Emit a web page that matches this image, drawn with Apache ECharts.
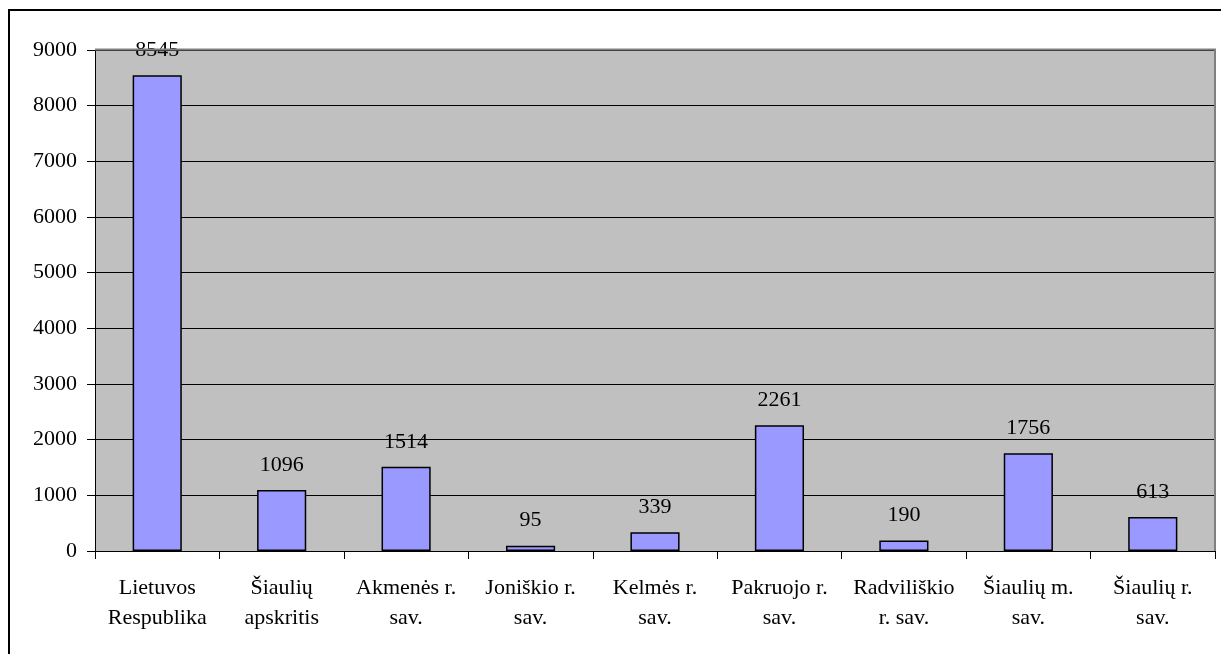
<!DOCTYPE html>
<html><head><meta charset="utf-8">
<script src="https://cdn.jsdelivr.net/npm/echarts@6/dist/echarts.min.js"></script>
<style>html,body{margin:0;padding:0;background:#fff}#c{width:1221px;height:654px}</style>
</head><body><div id="c"></div>
<script>
const categories = ["Lietuvos\nRespublika","Šiaulių\napskritis","Akmenės r.\nsav.","Joniškio r.\nsav.","Kelmės r.\nsav.","Pakruojo r.\nsav.","Radviliškio\nr. sav.","Šiaulių m.\nsav.","Šiaulių r.\nsav."];
const values = [8545,1096,1514,95,339,2261,190,1756,613];
const font = "'Liberation Serif','Times New Roman',serif";
const chart = echarts.init(document.getElementById('c'), null, {renderer:'canvas'});
chart.setOption({
  animation:false,
  graphic:[
    {type:'line', shape:{x1:8,y1:10,x2:1221,y2:10}, style:{stroke:'#000',lineWidth:2}},
    {type:'line', shape:{x1:9,y1:9,x2:9,y2:654}, style:{stroke:'#000',lineWidth:2}},
    {type:'line', z:10, shape:{x1:95,y1:49.5,x2:1216,y2:49.5}, style:{stroke:'#808080',lineWidth:2}},
    {type:'line', z:10, shape:{x1:1215,y1:49,x2:1215,y2:551}, style:{stroke:'#808080',lineWidth:2}}
  ],
  grid:{left:95,top:50,right:6,bottom:103,show:true,backgroundColor:'#C0C0C0',borderColor:'#808080',borderWidth:0},
  xAxis:{type:'category',data:categories,
    axisLine:{lineStyle:{color:'#000',width:1}},
    axisTick:{show:true,length:8,lineStyle:{color:'#000'},alignWithLabel:false},
    axisLabel:{color:'#000',fontFamily:font,fontSize:22,lineHeight:30,margin:22,interval:0}},
  yAxis:{type:'value',min:0,max:9000,interval:1000,
    axisLine:{show:true,lineStyle:{color:'#000',width:1}},
    axisTick:{show:true,length:8,lineStyle:{color:'#000'}},
    axisLabel:{color:'#000',fontFamily:font,fontSize:22,margin:18,formatter:v=>String(v)},
    splitLine:{lineStyle:{color:'#000',width:1}}},
  series:[{type:'bar',data:values,barWidth:'39.5%',
    itemStyle:{color:'#9999FF',borderColor:'#000',borderWidth:1.5},
    label:{show:true,position:'top',distance:14,color:'#000',fontFamily:font,fontSize:22}}]
});
</script></body></html>
